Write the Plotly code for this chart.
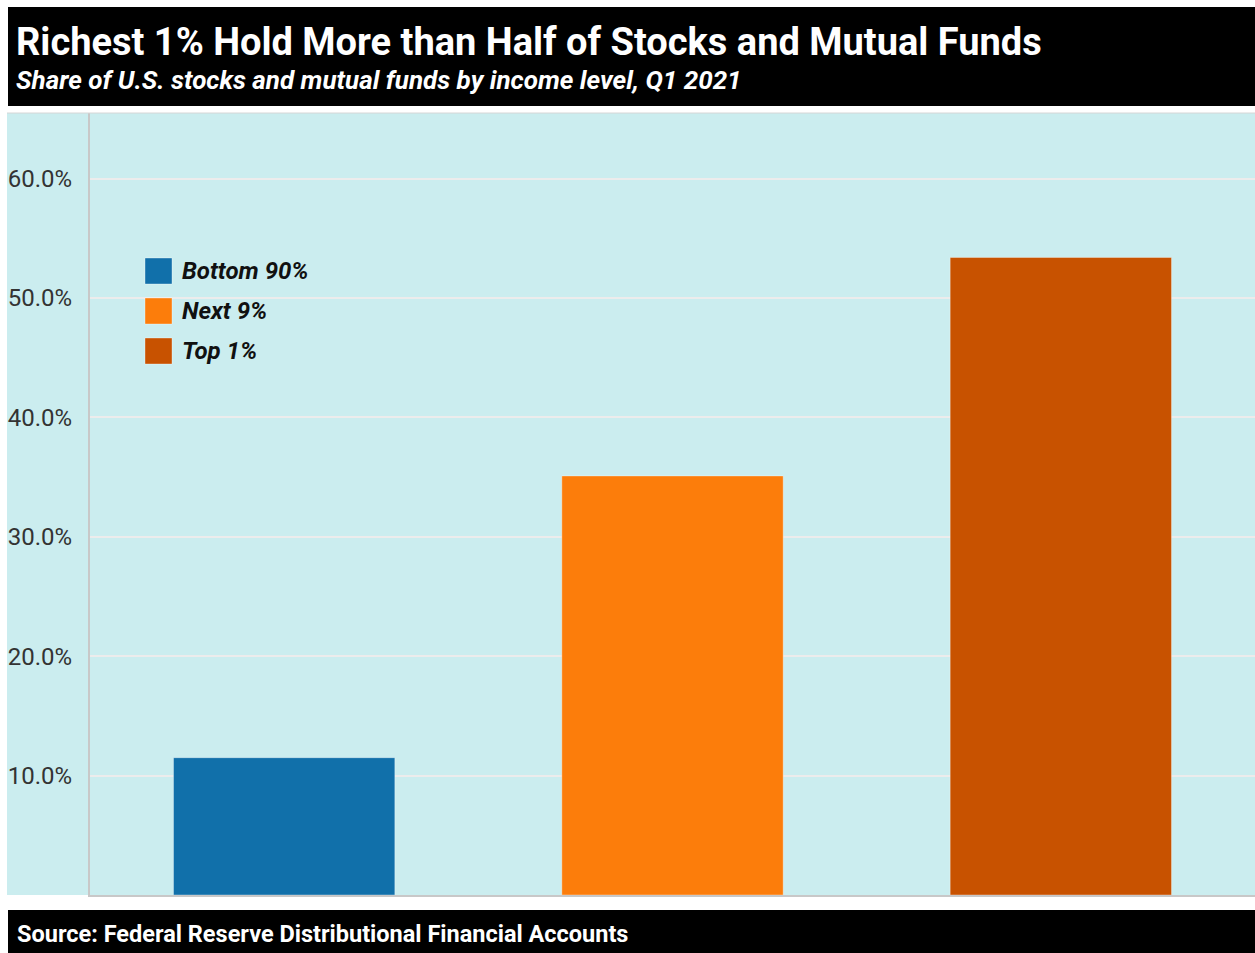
import plotly.graph_objects as go

# Data
groups = ["Bottom 90%", "Next 9%", "Top 1%"]
shares = [11.5, 35.1, 53.4]
colors = ["#1170aa", "#fc7d0b", "#c85200"]
tick_vals = [10, 20, 30, 40, 50, 60]
tick_text = ["10.0%", "20.0%", "30.0%", "40.0%", "50.0%", "60.0%"]

title = "Richest 1% Hold More than Half of Stocks and Mutual Funds"
subtitle = "Share of U.S. stocks and mutual funds by income level, Q1 2021"
source = "Source: Federal Reserve Distributional Financial Accounts"

W, H = 1255, 953
L, R, T, B = 90, 0, 113, 58
PW, PH = W - L - R, H - T - B
BG = "#cbedef"
FONT = "Roboto"


def px_x(px):
    return (px - L) / PW


def px_y(py):
    return 1 - (py - T) / PH


fig = go.Figure()
for g, v, c in zip(groups, shares, colors):
    fig.add_trace(go.Bar(
        x=[g], y=[v], name=g, width=0.57,
        marker=dict(color=c, line=dict(color="rgba(255,255,255,0.35)", width=1)),
        showlegend=False,
    ))

shapes = [
    # cyan panel extending behind tick labels
    dict(type="rect", xref="paper", yref="paper", x0=px_x(7), x1=1, y0=0, y1=1,
         fillcolor=BG, line=dict(width=0), layer="below"),
    # top border of panel
    dict(type="line", xref="paper", yref="paper", x0=px_x(7), x1=1, y0=1, y1=1,
         line=dict(color="#d6d6d6", width=1)),
    # title band
    dict(type="rect", xref="paper", yref="paper", x0=px_x(8), x1=1,
         y0=px_y(106), y1=px_y(7), fillcolor="black", line=dict(width=0)),
    # footer band
    dict(type="rect", xref="paper", yref="paper", x0=px_x(8), x1=1,
         y0=px_y(953), y1=px_y(910), fillcolor="black", line=dict(width=0)),
]

annotations = [
    dict(text=f"<b>{title}</b>", xref="paper", yref="paper", x=px_x(14), y=px_y(42),
         xanchor="left", yanchor="middle", showarrow=False,
         font=dict(family=FONT, size=38, color="white")),
    dict(text=f"<b><i>{subtitle}</i></b>", xref="paper", yref="paper", x=px_x(14), y=px_y(80),
         xanchor="left", yanchor="middle", showarrow=False,
         font=dict(family=FONT, size=26, color="white")),
    dict(text=f"<b>{source}</b>", xref="paper", yref="paper", x=px_x(15), y=px_y(934),
         xanchor="left", yanchor="middle", showarrow=False,
         font=dict(family=FONT, size=23.5, color="white")),
]

# legend with large square swatches
for i, (g, c) in enumerate(zip(groups, colors)):
    cy = 271 + 40 * i
    shapes.append(dict(type="rect", xref="paper", yref="paper",
                       x0=px_x(145), x1=px_x(172), y0=px_y(cy + 13), y1=px_y(cy - 13),
                       fillcolor=c, line=dict(color="rgba(255,255,255,0.35)", width=1)))
    annotations.append(dict(text=f"<b><i>{g}</i></b>", xref="paper", yref="paper",
                            x=px_x(180), y=px_y(cy), xanchor="left", yanchor="middle",
                            showarrow=False, font=dict(family=FONT, size=24, color="#111")))

fig.update_layout(
    width=W, height=H,
    margin=dict(l=L, r=R, t=T, b=B, pad=0),
    paper_bgcolor="white", plot_bgcolor=BG,
    barmode="overlay",
    showlegend=False,
    shapes=shapes, annotations=annotations,
    xaxis=dict(showticklabels=False, showgrid=False, zeroline=False,
               showline=True, linecolor="#c8c8c8", linewidth=2,
               categoryorder="array", categoryarray=groups, range=[-0.5, 2.5]),
    yaxis=dict(range=[0, 65.5], tickvals=tick_vals, ticktext=tick_text,
               showgrid=True, gridcolor="#ececec", gridwidth=2, zeroline=False,
               showline=True, linecolor="#c8c8c8", linewidth=2,
               ticks="", ticklabelstandoff=11,
               tickfont=dict(family=FONT, size=24, color="#333")),
)

fig.write_html("out.html")
